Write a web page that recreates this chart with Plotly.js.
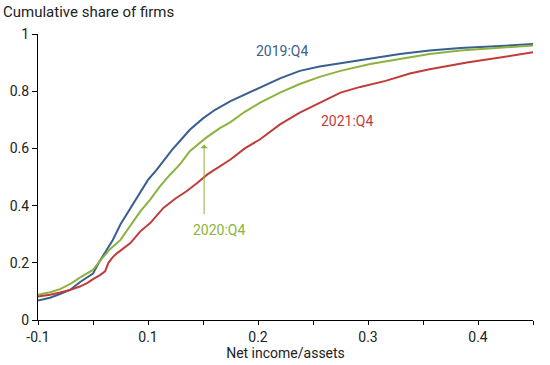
<!DOCTYPE html>
<html>
<head>
<meta charset="utf-8">
<script src="https://cdn.plot.ly/plotly-3.0.1.min.js"></script>
<style>html,body{margin:0;padding:0;background:#fff}#chart{width:550px;height:365px}</style>
</head>
<body>
<div id="chart"></div>
<script>
// x values are positions on the drawn axis (label "-0.1" sits at position 0)
const x2019 = [0.000,0.011,0.020,0.029,0.038,0.045,0.050,0.056,0.063,0.068,0.075,0.084,0.093,0.100,0.108,0.122,0.129,0.138,0.150,0.161,0.175,0.188,0.202,0.220,0.238,0.256,0.275,0.302,0.329,0.356,0.384,0.420,0.450];
const y2019 = [0.068,0.078,0.091,0.105,0.132,0.150,0.162,0.205,0.246,0.280,0.335,0.390,0.444,0.490,0.526,0.596,0.626,0.665,0.705,0.735,0.765,0.788,0.813,0.845,0.871,0.886,0.898,0.915,0.930,0.942,0.951,0.958,0.965];

const x2020 = [0.000,0.011,0.020,0.029,0.038,0.045,0.050,0.056,0.065,0.075,0.084,0.093,0.102,0.111,0.120,0.129,0.138,0.152,0.165,0.175,0.188,0.202,0.220,0.238,0.256,0.275,0.302,0.329,0.356,0.384,0.420,0.450];
const y2020 = [0.088,0.097,0.108,0.125,0.148,0.163,0.175,0.205,0.246,0.280,0.330,0.380,0.421,0.468,0.508,0.544,0.590,0.635,0.670,0.692,0.728,0.760,0.795,0.825,0.850,0.871,0.895,0.913,0.930,0.942,0.953,0.960];

const x2021 = [0.000,0.011,0.020,0.029,0.038,0.045,0.050,0.056,0.061,0.064,0.068,0.072,0.084,0.093,0.102,0.114,0.125,0.135,0.145,0.154,0.175,0.188,0.202,0.220,0.238,0.256,0.275,0.293,0.316,0.338,0.356,0.390,0.420,0.450];
const y2021 = [0.082,0.088,0.096,0.105,0.117,0.130,0.143,0.156,0.170,0.200,0.220,0.234,0.269,0.310,0.339,0.392,0.425,0.450,0.480,0.509,0.561,0.600,0.632,0.684,0.725,0.760,0.795,0.815,0.836,0.862,0.877,0.900,0.918,0.936];

const xTickVals = [0,0.05,0.1,0.15,0.2,0.25,0.3,0.35,0.4,0.45];
const xTickText = ["-0.1","","0.1","","0.2","","0.3","","0.4",""];
const yTickVals = [0,0.2,0.4,0.6,0.8,1];
const yTickText = ["0","0.2","0.4","0.6","0.8","1"];

const seriesNames = ["2019:Q4","2020:Q4","2021:Q4"];
const colors = ["#3a5f8f","#8cb23f","#c23b3b"];

const font = "Roboto, Arial, sans-serif";
const traces = [
  {x:x2019,y:y2019,name:seriesNames[0],mode:"lines",line:{color:colors[0],width:2}},
  {x:x2020,y:y2020,name:seriesNames[1],mode:"lines",line:{color:colors[1],width:2}},
  {x:x2021,y:y2021,name:seriesNames[2],mode:"lines",line:{color:colors[2],width:2}}
];

const layout = {
  width:550,height:365,
  margin:{l:38,r:17,t:34,b:45},
  paper_bgcolor:"#fff",plot_bgcolor:"#fff",
  showlegend:false,
  font:{family:font,size:14,color:"#222"},
  title:{text:"Cumulative share of firms",xref:"container",yref:"container",x:3/550,xanchor:"left",y:1-12/365,yanchor:"middle",font:{family:font,size:15,color:"#222"}},
  xaxis:{range:[0,0.45],tickmode:"array",tickvals:xTickVals,ticktext:xTickText,ticks:"outside",ticklen:4,tickcolor:"#000",showline:true,linecolor:"#000",linewidth:1,showgrid:false,zeroline:false,
         title:{text:"Net income/assets",standoff:2,font:{family:font,size:14,color:"#222"}},tickfont:{family:font,size:14,color:"#222"}},
  yaxis:{range:[0,1],tickmode:"array",tickvals:yTickVals,ticktext:yTickText,ticks:"outside",ticklen:5,tickcolor:"#000",showline:true,linecolor:"#000",linewidth:1,showgrid:false,zeroline:false,
         tickfont:{family:font,size:14,color:"#222"}},
  annotations:[
    {x:(282-38)/1100,y:(320-52)/285,xref:"x",yref:"y",text:seriesNames[0],showarrow:false,font:{family:font,size:14,color:colors[0]}},
    {x:(347-38)/1100,y:(320-122)/285,xref:"x",yref:"y",text:seriesNames[2],showarrow:false,font:{family:font,size:14,color:colors[2]}},
    {x:(219-38)/1100,y:(320-230)/285,xref:"x",yref:"y",text:seriesNames[1],showarrow:false,font:{family:font,size:14,color:colors[1]}},
    {x:0.151,y:0.614,xref:"x",yref:"y",text:"",showarrow:true,ax:0.151,ay:0.365,axref:"x",ayref:"y",arrowhead:1,arrowsize:1.3,arrowwidth:1,arrowcolor:colors[1]}
  ]
};

Plotly.newPlot("chart",traces,layout,{staticPlot:true,displayModeBar:false});
</script>
</body>
</html>
